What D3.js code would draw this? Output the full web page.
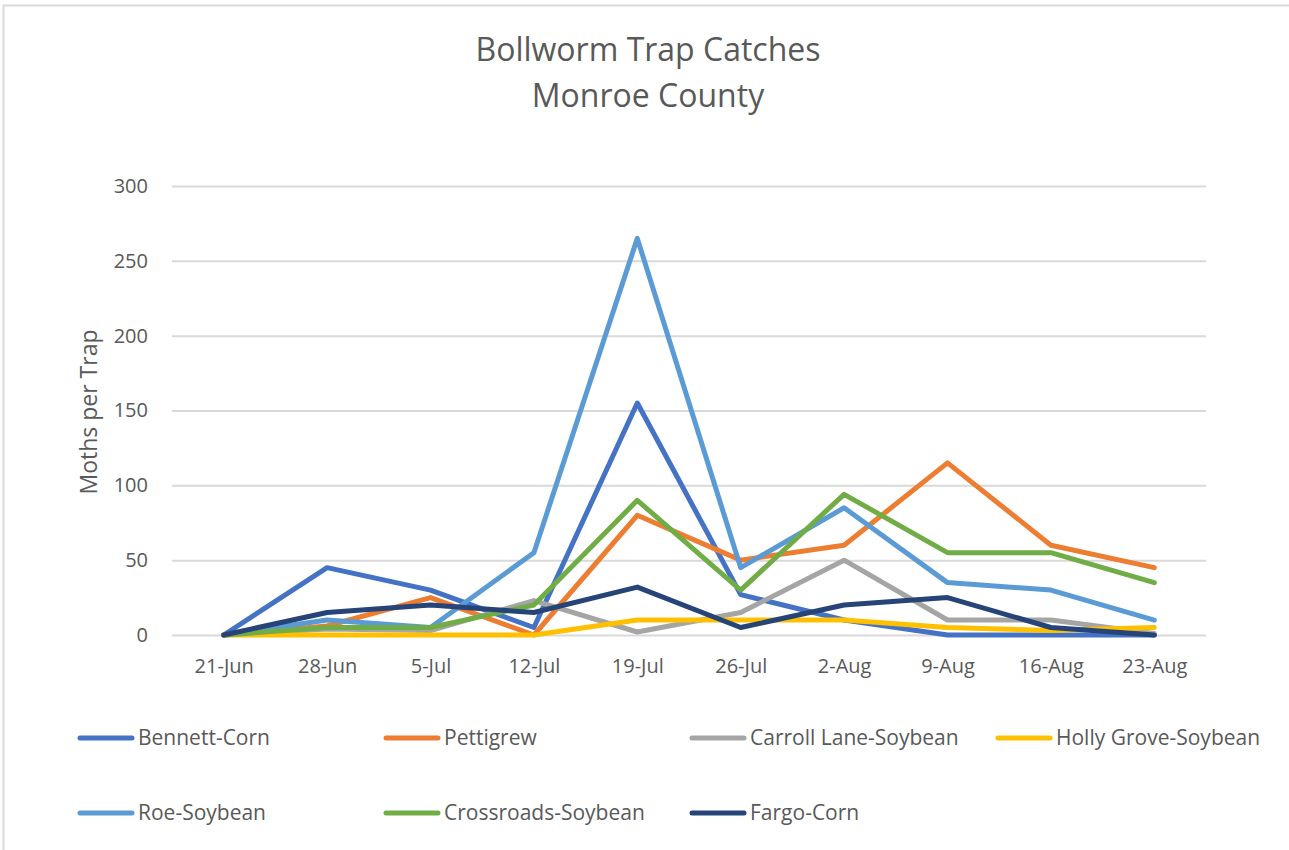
<!DOCTYPE html>
<html>
<head>
<meta charset="utf-8">
<script src="https://cdn.jsdelivr.net/npm/d3@7"></script>
<style>
  html, body { margin: 0; padding: 0; background: #fff; }
  svg { display: block; }
  text { font-family: "Open Sans", "Noto Sans", sans-serif; fill: #595959; }
</style>
</head>
<body>
<svg id="chart" width="1289" height="850"></svg>
<script>
// Weekly trap dates
const dates = ["21-Jun", "28-Jun", "5-Jul", "12-Jul", "19-Jul", "26-Jul", "2-Aug", "9-Aug", "16-Aug", "23-Aug"];

// Moths per trap, one array per trap site
const bennettCorn      = [0, 45, 30, 5, 155, 27, 10, 0, 0, 0];
const pettigrew        = [0, 6, 25, 0, 80, 50, 60, 115, 60, 45];
const carrollLaneSoy   = [0, 4, 3, 23, 2, 15, 50, 10, 10, 1];
const hollyGroveSoy    = [0, 0, 0, 0, 10, 10, 10, 5, 3, 5];
const roeSoy           = [0, 10, 5, 55, 265, 45, 85, 35, 30, 10];
const crossroadsSoy    = [0, 5, 5, 20, 90, 30, 94, 55, 55, 35];
const fargoCorn        = [0, 15, 20, 15, 32, 5, 20, 25, 5, 0];

const seriesNames = ["Bennett-Corn", "Pettigrew", "Carroll Lane-Soybean", "Holly Grove-Soybean",
                     "Roe-Soybean", "Crossroads-Soybean", "Fargo-Corn"];
const seriesValues = [bennettCorn, pettigrew, carrollLaneSoy, hollyGroveSoy, roeSoy, crossroadsSoy, fargoCorn];
const seriesColors = ["#4472C4", "#ED7D31", "#A5A5A5", "#FFC000", "#5B9BD5", "#70AD47", "#264478"];

const yTicks = [0, 50, 100, 150, 200, 250, 300];

const svg = d3.select("#chart");

// Chart frame
svg.append("rect")
  .attr("x", 3.5).attr("y", 5.5)
  .attr("width", 1300).attr("height", 860)
  .attr("fill", "#fff")
  .attr("stroke", "#d9d9d9").attr("stroke-width", 2);

const plot = { left: 172, right: 1206, top: 186, bottom: 635 };

const x = d3.scalePoint()
  .domain(dates)
  .range([plot.left, plot.right])
  .padding(0.5);

const y = d3.scaleLinear()
  .domain([0, 300])
  .range([plot.bottom, plot.top]);

// Title
svg.append("text")
  .attr("x", 648).attr("y", 61)
  .attr("text-anchor", "middle")
  .style("font-size", "32px")
  .text("Bollworm Trap Catches");
svg.append("text")
  .attr("x", 648).attr("y", 107)
  .attr("text-anchor", "middle")
  .style("font-size", "32px")
  .text("Monroe County");

// Horizontal gridlines and y tick labels
const yAxis = d3.axisLeft(y)
  .tickValues(yTicks)
  .tickSize(-(plot.right - plot.left))
  .tickPadding(24)
  .tickFormat(d3.format("d"));

const gy = svg.append("g")
  .attr("transform", `translate(${plot.left},0)`)
  .call(yAxis);
gy.select(".domain").remove();
gy.selectAll(".tick line").attr("stroke", "#d9d9d9").attr("stroke-width", 2);
gy.selectAll(".tick text")
  .style("font-size", "20px")
  .attr("fill", "#595959");

// Category labels along the bottom
const xAxis = d3.axisBottom(x).tickSize(0).tickPadding(24);
const gx = svg.append("g")
  .attr("transform", `translate(0,${plot.bottom})`)
  .call(xAxis);
gx.select(".domain").remove();
gx.selectAll(".tick text")
  .style("font-size", "20px")
  .attr("fill", "#595959");

// Y axis title
svg.append("text")
  .attr("transform", "translate(97,412) rotate(-90)")
  .attr("text-anchor", "middle")
  .style("font-size", "23px")
  .text("Moths per Trap");

// Series lines
const line = d3.line()
  .x((d, i) => x(dates[i]))
  .y(d => y(d));

svg.append("g")
  .selectAll("path")
  .data(seriesValues)
  .join("path")
  .attr("d", line)
  .attr("fill", "none")
  .attr("stroke", (d, i) => seriesColors[i])
  .attr("stroke-width", 5)
  .attr("stroke-linejoin", "round")
  .attr("stroke-linecap", "round");

// Legend: four columns, two rows
const legendCols = [80, 386, 692, 998];
const legendRows = [738, 813];
const legend = svg.append("g")
  .selectAll("g")
  .data(seriesNames)
  .join("g")
  .attr("transform", (d, i) => `translate(${legendCols[i % 4]},${legendRows[Math.floor(i / 4)]})`);

legend.append("line")
  .attr("x1", 0).attr("x2", 52)
  .attr("y1", 0).attr("y2", 0)
  .attr("stroke", (d, i) => seriesColors[i])
  .attr("stroke-width", 5)
  .attr("stroke-linecap", "round");

legend.append("text")
  .attr("x", 58).attr("y", 0)
  .attr("dy", "0.35em")
  .style("font-size", "21px")
  .text(d => d);
</script>
</body>
</html>
